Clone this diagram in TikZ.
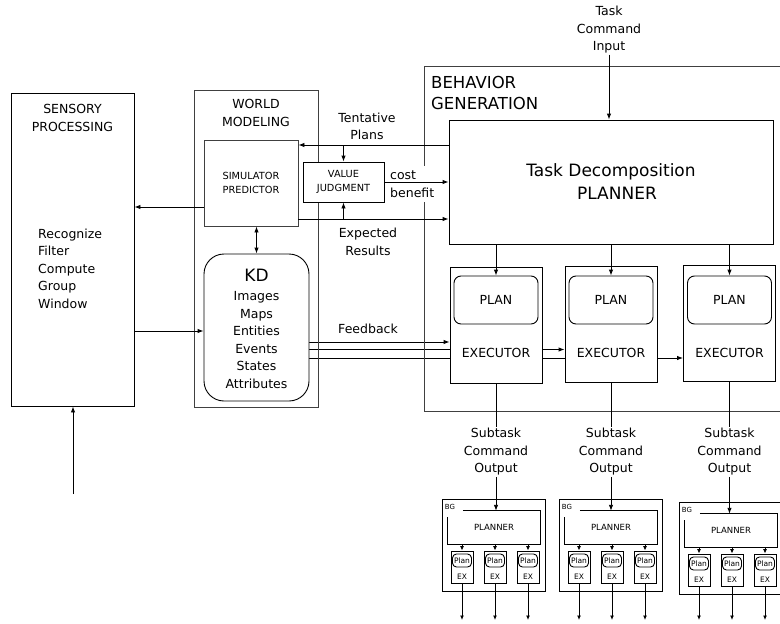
\documentclass[tikz,border=0pt]{standalone}
\usepackage{fontspec}
\setmainfont{DejaVu Sans}
\usetikzlibrary{arrows.meta,positioning,backgrounds}
\tikzset{
  box/.style={draw, fill=white, line width=0.9pt, inner sep=0pt},
  framebox/.style={draw=black!75, line width=0.9pt},
  arr/.style={-{Latex[length=6pt,width=4.5pt]}, line width=0.9pt},
  minarr/.style={-{Latex[length=4.5pt,width=4pt]}, line width=0.9pt},
  dblarr/.style={{Latex[length=6pt,width=4.5pt]}-{Latex[length=6pt,width=4.5pt]}, line width=0.9pt},
  lbl/.style={font=\fontsize{12.5}{17.5}\selectfont, align=center, inner sep=1pt},
  smalllbl/.style={font=\fontsize{9.8}{14}\selectfont, align=center, inner sep=1pt},
  tinylbl/.style={font=\fontsize{7.5}{9}\selectfont, inner sep=0pt},
}
\begin{document}
\begin{tikzpicture}[x=1pt,y=-1pt]
\useasboundingbox (0,0) rectangle (780,624);
\draw[framebox] (780,66) -| (424,411) -- (780,411);
\node[framebox, minimum width=124pt, minimum height=317pt] (wm) at (256,248.5) {};
\node[box, minimum width=123pt, minimum height=313pt] (sp) at (72.5,249.5) {};
\node[lbl] (sptitle) at (72.5,118) {SENSORY\\PROCESSING};
\node[lbl, align=left, anchor=west] (splist) at (37,268.5) {Recognize\\Filter\\Compute\\Group\\Window};
\node[lbl] (wmtitle) at (256,113) {WORLD\\MODELING};
\node[box, draw=black!75, minimum width=94pt, minimum height=86pt, smalllbl] (sim) at (251,183) {SIMULATOR\\PREDICTOR};
\node[box, minimum width=81pt, minimum height=40pt, smalllbl] (vj) at (343.5,182) {VALUE\\JUDGMENT};
\node[box, rounded corners=20pt, minimum width=105pt, minimum height=147pt] (kd) at (256.5,327.5) {};
\node[font=\fontsize{17}{20}\selectfont] (kdname) at (256.5,275) {KD};
\node[lbl] (kdlist) at (256.5,340) {Images\\Maps\\Entities\\Events\\States\\Attributes};
\node[font=\fontsize{16.5}{21}\selectfont, align=left, anchor=west, inner sep=0pt] (bgtitle) at (431,92.5) {BEHAVIOR\\GENERATION};
\node[box, minimum width=324pt, minimum height=124pt, font=\fontsize{17}{23}\selectfont, align=center] (planner) at (611,182) {Task Decomposition\\\hspace*{12pt}PLANNER};
\node[lbl] (tci) at (609,30) {Task\\Command\\Input};
\node[lbl] (tent) at (367,126.5) {Tentative\\Plans};
\node[lbl] (expres) at (368,242) {Expected\\Results};
\node[lbl, align=left, anchor=west, fill=white, inner xsep=2pt, inner ysep=5pt] (cb) at (388,184) {cost\\benefit};
\draw[arr] (tci) -- (tci.south |- planner.north);
\draw[arr] (planner.west |- 0,145) -- (sim.east |- 0,145);
\draw[arr] (vj.north |- 0,145) -- (vj);
\draw[arr] (sim.east |- 0,219) -- (planner.west |- 0,219);
\draw[arr] (vj.south |- 0,219) -- (vj);
\draw[arr] (vj) -- (vj -| planner.west);
\draw[arr] (sim.west |- 0,207) -- (sp.east |- 0,207);
\draw[dblarr] (kd.north |- sim.south) -- (kd);
\draw[arr] (sp.east |- 0,331) -- (kd.west |- 0,331);
\coordinate (spin) at (73,494);
\draw[arr] (spin) -- (spin |- sp.south);
\foreach \i/\x/\y in {1/496/325, 2/611/324, 3/729.5/323.5} {
  \node[box, minimum width=92pt, minimum height=116pt] (ex\i) at (\x,\y) {};
  \node[box, rounded corners=7pt, minimum width=84pt, minimum height=48pt, lbl] (plan\i) at (\x,300) {PLAN};
  \node[lbl] (exl\i) at (\x,353) {EXECUTOR};
  \draw[arr] (plan\i |- planner.south) -- (plan\i);
}
\begin{scope}[on background layer]
\draw[arr] (kd.east |- 0,342) -- (ex1.west |- 0,342);
\draw[arr] (kd.east |- 0,349.5) -- (ex2.west |- 0,349.5);
\draw[arr] (kd.east |- 0,358) -- (ex3.west |- 0,358);
\end{scope}
\node[lbl] (fb) at (368,329) {Feedback};
\foreach \i/\x/\ox/\oy in {1/496/442/499, 2/611/559/499, 3/729.5/679/502} {
  \node[lbl] (st\i) at (\x,452) {Subtask\\Command\\Output};
  \draw[line width=0.9pt] (ex\i) -- (st\i);
  \node[box, minimum width=103pt, minimum height=92pt] (mbg\i) at (\ox+51.5,\oy+46) {};
  \node[font=\fontsize{7}{8}\selectfont, inner sep=0pt] (mbgl\i) at (\ox+8,\oy+8) {BG};
  \node[minimum width=92pt, minimum height=33pt, inner sep=0pt, font=\fontsize{8.5}{10}\selectfont] (mp\i) at (\ox+52,\oy+28.5) {PLANNER};
  \draw[line width=0.9pt] ([xshift=15pt]mp\i.north west) -| (mp\i.south east) -| ([yshift=-6pt]mp\i.north west);
  \draw[arr] (st\i) -- (st\i |- mp\i.north);
  \foreach \j/\dx in {1/20, 2/53, 3/86} {
    \node[box, minimum width=22pt, minimum height=32pt] (mex\i\j) at (\ox+\dx,\oy+68) {};
    \node[box, rounded corners=4pt, minimum width=19pt, minimum height=13pt, tinylbl] (mpl\i\j) at (\ox+\dx,\oy+61.5) {Plan};
    \node[tinylbl] (mexl\i\j) at (\ox+\dx,\oy+78) {EX};
    \draw[minarr] (mp\i.south -| mex\i\j) -- (mex\i\j);
    \coordinate (out\i\j) at (\ox+\dx,620);
    \draw[minarr] (mex\i\j) -- (out\i\j);
  }
}
\end{tikzpicture}
\end{document}
